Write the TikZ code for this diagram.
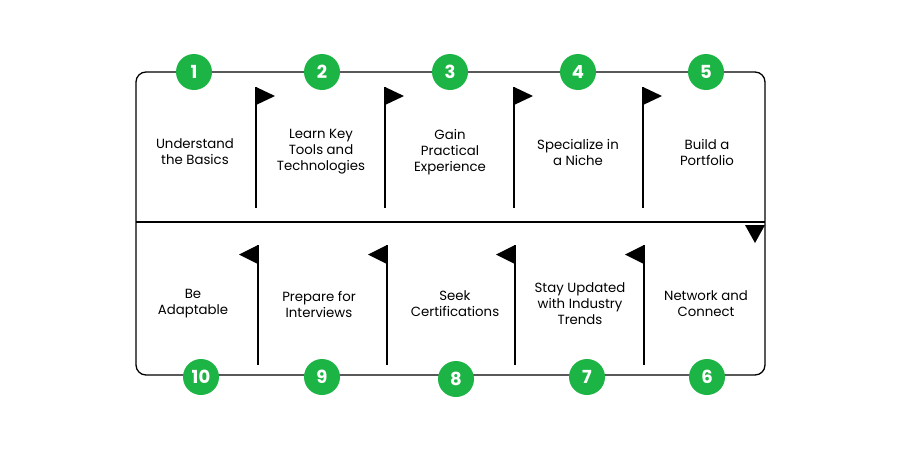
\documentclass[tikz,border=0pt]{standalone}
\usepackage{fontspec}
\setmainfont{Poppins}
\usetikzlibrary{positioning}
\definecolor{stepgreen}{HTML}{1DB446}

\begin{document}
\begin{tikzpicture}[x=1pt, y=-1pt,
  every node/.style={inner sep=0pt},
  stepnum/.style={circle, fill=stepgreen, text=white, minimum size=36pt, font=\bfseries\fontsize{18}{18}\selectfont},
  steptext/.style={align=center, font=\fontsize{13.3}{16}\selectfont},
  pole/.style={draw, line width=1.1pt},
  frame/.style={draw, line width=1.3pt}
]
\fill[white] (0,0) rectangle (900,450);
\useasboundingbox (0,0) rectangle (900,450);

% outer frame and middle line
\draw[frame, rounded corners=10pt] (136,72) rectangle (765,375);
\coordinate (midL) at (136,222);
\coordinate (midR) at (765,222);
\draw[frame] (midL) -- (midR);

% flag poles, top row
\foreach \i/\x in {1/256,2/385,3/514,4/643} {
  \coordinate (up\i) at (\x,87);
  \coordinate (ub\i) at (\x,208);
  \draw[pole] (up\i) -- (ub\i);
  \fill (up\i) -- ++(19,9) -- ++(-19,9) -- cycle;
}
% flag poles, bottom row
\foreach \i/\x in {1/258,2/387,3/515,4/644} {
  \coordinate (lp\i) at (\x,245);
  \coordinate (lb\i) at (\x,365);
  \draw[pole] (lp\i) -- (lb\i);
  \fill (lp\i) -- ++(-19,9.5) -- ++(19,9.5) -- cycle;
}
% turn marker
\fill (745,225) -- (765,225) -- (755,243) -- cycle;

% numbers
\node[stepnum] (n1) at (194,72) {1};
\node[stepnum] (n2) at (322,72) {2};
\node[stepnum] (n3) at (450,72) {3};
\node[stepnum] (n4) at (578,72) {4};
\node[stepnum] (n5) at (706,72) {5};
\node[stepnum] (n6) at (707,377) {6};
\node[stepnum] (n7) at (587,377) {7};
\node[stepnum] (n8) at (456,379) {8};
\node[stepnum] (n9) at (322,377) {9};
\node[stepnum] (n10) at (201,377) {10};

% step texts
\node[steptext] (t1) at (195,152) {Understand\\the Basics};
\node[steptext] (t2) at (321,152) {Learn Key\\Tools and\\Technologies};
\node[steptext] (t3) at (450,152) {Gain\\Practical\\Experience};
\node[steptext] (t4) at (578,152) {Specialize in\\a Niche};
\node[steptext] (t5) at (707,152) {Build a\\Portfolio};
\node[steptext] (t6) at (706,304) {Network and\\Connect};
\node[steptext] (t7) at (580,304) {Stay Updated\\with Industry\\Trends};
\node[steptext] (t8) at (455,304) {Seek\\Certifications};
\node[steptext] (t9) at (319,304) {Prepare for\\Interviews};
\node[steptext] (t10) at (193,304) {Be\\Adaptable};
\end{tikzpicture}
\end{document}
